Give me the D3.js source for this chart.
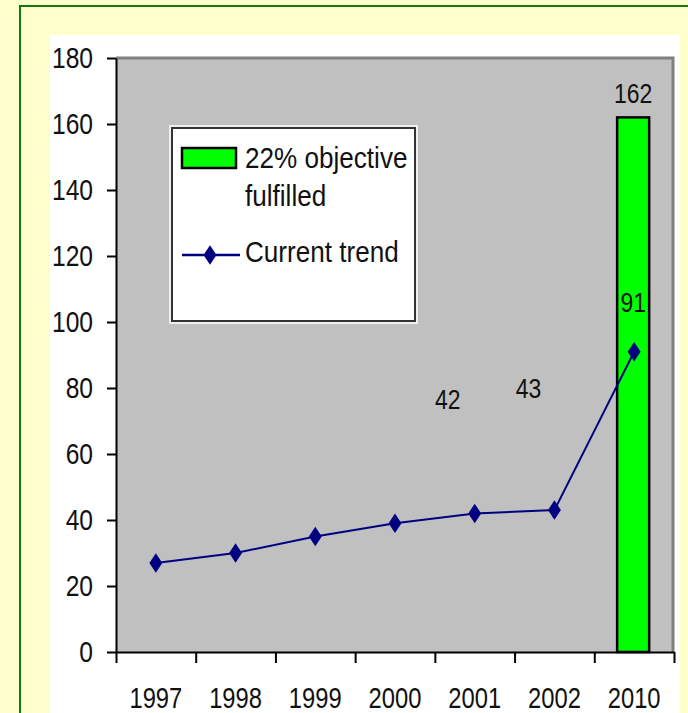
<!DOCTYPE html>
<html lang="en">
<head>
<meta charset="UTF-8">
<title>22% objective vs current trend</title>
<script src="https://cdnjs.cloudflare.com/ajax/libs/d3/7.9.0/d3.min.js"></script>
<style>
  body{margin:0;background:#ffffcc;}
  svg{display:block;font-family:"Liberation Sans",Arial,sans-serif;}
  .sq{transform-box:fill-box;transform:scaleX(0.82);}
  .lgt{transform-box:fill-box;transform:scaleX(0.9);}
</style>
</head>
<body>
<svg id="chart" width="688" height="713"></svg>
<script>
/* ---------- data ---------- */
const years = ["1997","1998","1999","2000","2001","2002","2010"];
const trend = [27, 30, 35, 39, 42, 43, 91];
const objectiveYears = ["2010"];
const objective = [162];
const yTicks = [0,20,40,60,80,100,120,140,160,180];
const labelled = ["2001","2002","2010"];   // points carrying a value label

const svg = d3.select("#chart");

// page frame
svg.append("rect").attr("x",20).attr("y",6).attr("width",700).attr("height",740)
  .attr("fill","#ffffcc").attr("stroke","#117711").attr("stroke-width",2);
svg.append("rect").attr("x",50).attr("y",35).attr("width",630).attr("height",700)
  .attr("fill","#fff");

/* ---------- scales ---------- */
const L = 116, R = 674, T = 58, B = 652;
const x = d3.scaleBand().domain(years).range([L,R]);
const xi = d3.scaleLinear().domain([0,years.length]).range([L,R]);
const y = d3.scaleLinear().domain([0,180]).range([B,T]);

// plot area
svg.append("rect").attr("x",L).attr("y",T).attr("width",R-L).attr("height",B-T)
  .attr("fill","#c0c0c0");
svg.append("path").attr("d",`M${L},${T}H${R-1}V${B}`)
  .attr("fill","none").attr("stroke","#808080").attr("stroke-width",3);

/* ---------- bar ---------- */
const barW = 32;
svg.selectAll("rect.bar").data(objectiveYears.map((c,i)=>({c,v:objective[i]})))
  .enter().append("rect").attr("class","bar")
    .attr("x",d=>x(d.c)+x.bandwidth()/2-barW/2-1)
    .attr("y",d=>y(d.v))
    .attr("width",barW).attr("height",d=>B-y(d.v))
    .attr("fill","#00ff00").attr("stroke","#000").attr("stroke-width",2.5);

svg.selectAll("text.barlab").data(objectiveYears.map((c,i)=>({c,v:objective[i]})))
  .enter().append("text").attr("class","barlab sq")
    .attr("x",d=>x(d.c)+x.bandwidth()/2-1).attr("y",d=>y(d.v)-14)
    .attr("text-anchor","middle").attr("font-size",28).attr("fill","#111")
    .style("transform-origin","center")
    .text(d=>d.v);

/* ---------- axes ---------- */
const yAxis = svg.append("g").attr("transform",`translate(${L},0)`)
  .call(d3.axisLeft(y).tickValues(yTicks).tickSize(9).tickSizeOuter(0).tickPadding(14));
yAxis.selectAll("text").attr("class","sq").attr("font-size",30).attr("fill","#111")
  .attr("font-family","Liberation Sans, Arial, sans-serif")
  .style("transform-origin","right center");

// boundary ticks on the category axis
const xTickAxis = svg.append("g").attr("transform",`translate(0,${B})`)
  .call(d3.axisBottom(xi).tickValues(d3.range(years.length+1)).tickSize(11).tickFormat(""));
xTickAxis.select(".domain").remove();

const xAxis = svg.append("g").attr("transform",`translate(0,${B})`)
  .call(d3.axisBottom(x).tickSize(0).tickPadding(35));
xAxis.selectAll("text").attr("class","sq").attr("font-size",29).attr("fill","#111")
  .attr("font-family","Liberation Sans, Arial, sans-serif")
  .style("transform-origin","center");
svg.selectAll(".domain").attr("stroke","#000").attr("stroke-width",2);
svg.selectAll(".tick line").attr("stroke","#000").attr("stroke-width",2);

/* ---------- trend line ---------- */
const pts = years.map((c,i)=>({c,v:trend[i]}));
const cx = d=>x(d.c)+x.bandwidth()/2;
svg.append("path").datum(pts)
  .attr("d",d3.line().x(cx).y(d=>y(d.v)))
  .attr("fill","none").attr("stroke","#000080").attr("stroke-width",2);
const diamond = d3.symbol().type(d3.symbolDiamond).size(110);
svg.selectAll("path.pt").data(pts).enter().append("path").attr("class","pt")
  .attr("d",diamond)
  .attr("transform",d=>`translate(${cx(d)},${y(d.v)}) scale(1.15,1)`)
  .attr("fill","#000080");

// value labels (placed as in the original slide)
const labOffset = {"2001":[-27,-104],"2002":[-26,-112],"2010":[-1,-40]};
svg.selectAll("text.ptlab").data(pts.filter(d=>labelled.includes(d.c)))
  .enter().append("text").attr("class","ptlab sq")
    .attr("x",d=>cx(d)+labOffset[d.c][0]).attr("y",d=>y(d.v)+labOffset[d.c][1])
    .attr("text-anchor","middle").attr("font-size",28).attr("fill","#111")
    .style("transform-origin","center")
    .text(d=>d.v);

/* ---------- legend ---------- */
const lg = svg.append("g");
lg.append("rect").attr("x",172).attr("y",128).attr("width",243).attr("height",193)
  .attr("fill","#fff").attr("stroke","#333").attr("stroke-width",2);
lg.append("rect").attr("x",170).attr("y",126).attr("width",247).attr("height",197)
  .attr("fill","none").attr("stroke","#fff").attr("stroke-width",1.5);
lg.append("rect").attr("x",182).attr("y",148).attr("width",54).attr("height",20)
  .attr("fill","#00ff00").attr("stroke","#000").attr("stroke-width",2.5);
lg.append("text").attr("class","lgt").attr("x",245).attr("y",168).attr("font-size",29)
  .attr("fill","#111").style("transform-origin","left center").text("22% objective");
lg.append("text").attr("class","lgt").attr("x",245).attr("y",206).attr("font-size",29)
  .attr("fill","#111").style("transform-origin","left center").text("fulfilled");
lg.append("line").attr("x1",182).attr("x2",240).attr("y1",255).attr("y2",255)
  .attr("stroke","#000080").attr("stroke-width",2.5);
lg.append("path").attr("d",diamond).attr("transform","translate(210,255) scale(1.15,1)")
  .attr("fill","#000080");
lg.append("text").attr("class","lgt").attr("x",245).attr("y",262).attr("font-size",29)
  .attr("fill","#111").style("transform-origin","left center").text("Current trend");
</script>
</body>
</html>
